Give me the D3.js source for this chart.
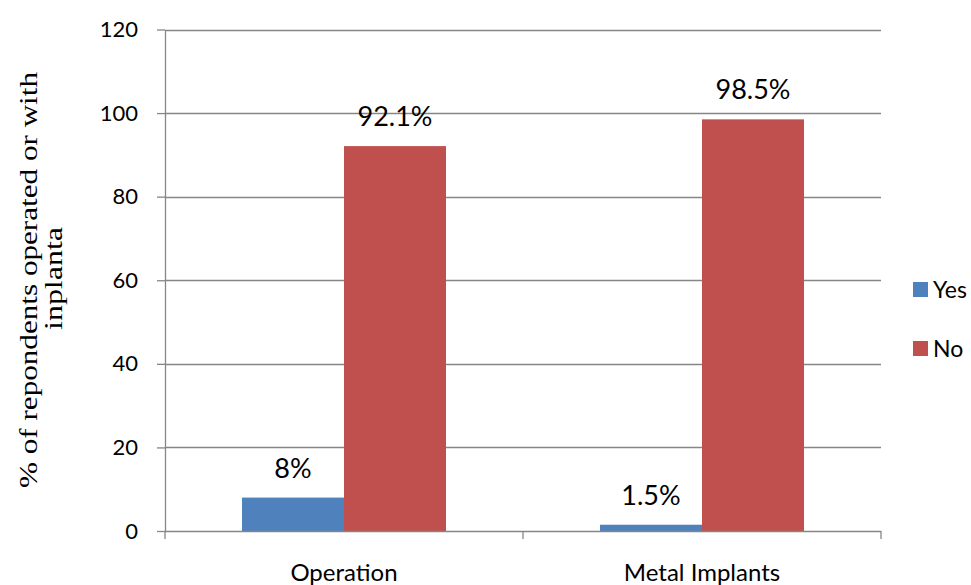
<!DOCTYPE html>
<html><head><meta charset="utf-8">
<script src="https://cdn.jsdelivr.net/npm/d3@7"></script>
<style>body{margin:0;background:#fff}svg{display:block}</style>
</head><body>
<svg id="c" width="971" height="585"></svg>
<script>
const categories = ["Operation", "Metal Implants"];
const seriesNames = ["Yes", "No"];
const yesValues = [8, 1.5];
const noValues = [92.1, 98.5];
const valueLabels = {Yes: ["8%", "1.5%"], No: ["92.1%", "98.5%"]};
const yTicks = [0, 20, 40, 60, 80, 100, 120];
const colors = {Yes: "#4F81BD", No: "#C0504D"};
const yTitleLines = ["% of repondents operated or with", "inplanta"];

(function () {
const svg = d3.select("#c");
const pLeft = 165, pRight = 881, pTop = 29.5, pBottom = 531;
const sans = "Lato, 'Open Sans', sans-serif";
const grid = "#868686";

const x = d3.scaleBand().domain(categories).range([pLeft, pRight]).paddingInner(0).paddingOuter(0);
const xs = d3.scaleBand().domain(seriesNames).range([0, x.bandwidth()]).paddingInner(0).paddingOuter(0.755);
const y = d3.scaleLinear().domain([0, 120]).range([pBottom, pTop]);

// gridlines
svg.append("g").selectAll("line").data(yTicks.filter(d => d > 0)).join("line")
  .attr("x1", pLeft).attr("x2", pRight)
  .attr("y1", d => Math.round(y(d)) + 0.5).attr("y2", d => Math.round(y(d)) + 0.5)
  .attr("stroke", grid).attr("stroke-width", 1.3);

// y axis
const yAxis = svg.append("g").attr("transform", `translate(${pLeft},0)`)
  .call(d3.axisLeft(y).tickValues(yTicks).tickSizeOuter(0).tickSizeInner(8).tickPadding(19));
yAxis.select(".domain").attr("stroke", grid).attr("stroke-width", 1.3);
yAxis.selectAll(".tick line").attr("stroke", grid).attr("stroke-width", 1.3);
yAxis.selectAll(".tick text").attr("font-family", sans).attr("font-size", 22).attr("fill", "#000");

// bars
const data = [];
categories.forEach((c, i) => {
  data.push({cat: c, s: "Yes", v: yesValues[i], lab: valueLabels.Yes[i]});
  data.push({cat: c, s: "No", v: noValues[i], lab: valueLabels.No[i]});
});
svg.append("g").selectAll("rect").data(data).join("rect")
  .attr("x", d => x(d.cat) + xs(d.s))
  .attr("y", d => y(d.v))
  .attr("width", xs.bandwidth())
  .attr("height", d => y(0) - y(d.v))
  .attr("fill", d => colors[d.s]);

// x axis
const xAxisG = svg.append("g").attr("transform", `translate(0,${pBottom})`);
xAxisG.append("line").attr("x1", pLeft).attr("x2", pRight).attr("y1", 0.5).attr("y2", 0.5)
  .attr("stroke", grid).attr("stroke-width", 1.3);
const bounds = categories.map(c => x(c)).concat([x(categories[categories.length - 1]) + x.bandwidth()]);
xAxisG.selectAll("line.t").data(bounds).join("line").attr("class", "t")
  .attr("x1", d => d).attr("x2", d => d).attr("y1", 0).attr("y2", 8)
  .attr("stroke", grid).attr("stroke-width", 1.3);
svg.append("g").selectAll("text").data(categories).join("text")
  .attr("x", d => x(d) + x.bandwidth() / 2).attr("y", 581)
  .attr("text-anchor", "middle").attr("font-family", sans).attr("font-size", 24)
  .text(d => d);

// value labels
svg.append("g").selectAll("text").data(data).join("text")
  .attr("x", d => x(d.cat) + xs(d.s) + xs.bandwidth() / 2)
  .attr("y", d => y(d.v) - 20)
  .attr("text-anchor", "middle").attr("font-family", sans).attr("font-size", 27)
  .text(d => d.lab);

// legend
const lg = svg.append("g").selectAll("g").data(seriesNames).join("g")
  .attr("transform", (d, i) => `translate(913,${282 + i * 59})`);
lg.append("rect").attr("width", 15).attr("height", 15).attr("fill", d => colors[d]);
lg.append("text").attr("x", 20).attr("y", 15.5).attr("font-family", sans).attr("font-size", 23).text(d => d);

// y title
const cy = 280;
svg.append("text").attr("transform", `translate(37,${cy}) rotate(-90)`)
  .attr("text-anchor", "middle").attr("font-family", "'Liberation Serif', 'Times New Roman', serif")
  .attr("font-size", 26).attr("textLength", 416).attr("lengthAdjust", "spacingAndGlyphs")
  .text(yTitleLines[0]);
svg.append("text").attr("transform", `translate(62,${cy - 1.5}) rotate(-90)`)
  .attr("text-anchor", "middle").attr("font-family", "'Liberation Serif', 'Times New Roman', serif")
  .attr("font-size", 26).attr("textLength", 103).attr("lengthAdjust", "spacingAndGlyphs")
  .text(yTitleLines[1]);
})();
</script>
</body></html>
